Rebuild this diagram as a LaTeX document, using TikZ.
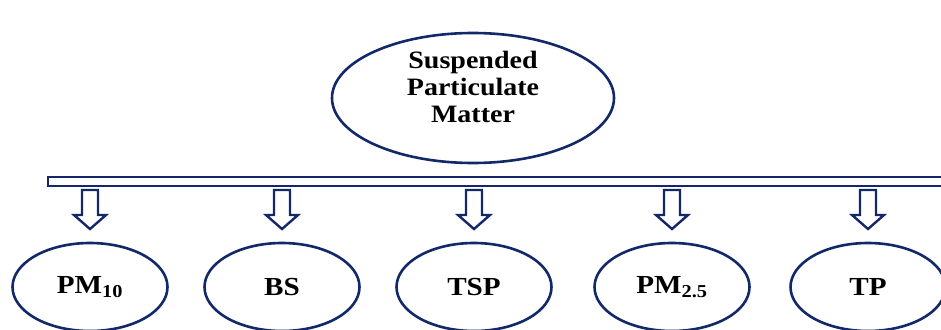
\documentclass[tikz,border=0pt]{standalone}
\usepackage{fontspec}
\setmainfont[FakeStretch=1.12]{Liberation Serif}
\usetikzlibrary{shapes.geometric,calc}
\definecolor{navy}{RGB}{18,40,105}
\begin{document}
\begin{tikzpicture}[x=1pt,y=-1pt,
  oval/.style={ellipse,draw=navy,line width=2.6pt,fill=white,inner sep=0pt,
    minimum width=#1,font=\bfseries\fontsize{26}{27}\selectfont},
  oval/.default=155pt,
  blockarrow/.style={draw=navy,line width=2.4pt,fill=white,line join=miter},
  barstyle/.style={draw=navy,line width=2pt,fill=white}]
\useasboundingbox (0,0) rectangle (941,329);

% top node and its three-line caption
\node[oval=282pt,minimum height=130pt] (spm) at (473,98) {};
\node[align=center,inner sep=0pt,font=\bfseries\fontsize{25}{27}\selectfont]
  (spmtext) at (473,87) {Suspended\\Particulate\\Matter};

% horizontal distribution bar
\draw[barstyle] (48,177) rectangle (946,186);

% bottom nodes
\foreach \n/\x/\t in {pm10/90/{PM\textsubscript{10}},bs/282/BS,tsp/474/TSP,
                      pm25/672/{PM\textsubscript{2.5}},tp/868/TP}{
  \node[oval,minimum height=88pt] (\n) at (\x,287) {\t};
  % block arrow above each node
  \coordinate (a\n) at (\x,190);
  \draw[blockarrow] ($(a\n)+(-8,0)$) -- ++(0,25) -- ++(-8,0) -- ($(a\n)+(0,39)$)
     -- ($(a\n)+(16,25)$) -- ++(-8,0) -- ($(a\n)+(8,0)$) -- cycle;
}
\end{tikzpicture}
\end{document}
